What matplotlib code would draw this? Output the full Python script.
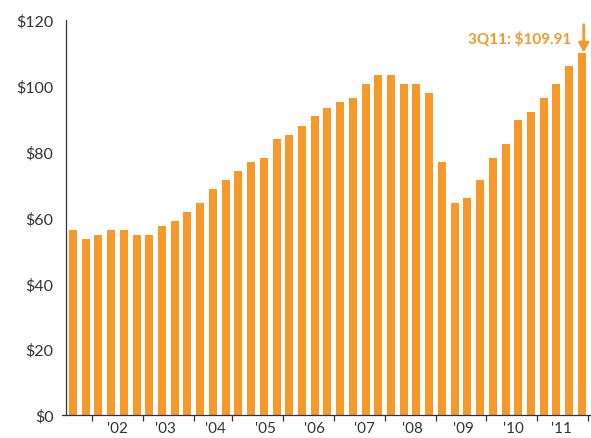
import numpy as np
import matplotlib.pyplot as plt

# quarterly values, 3Q01 .. 3Q11
quarters = ['3Q01', '4Q01'] + ['%dQ%02d' % (q, y) for y in range(2, 11) for q in range(1, 5)] + ['1Q11', '2Q11', '3Q11']
values = [56.2, 53.4, 54.7, 56.2, 56.2, 54.7, 54.7, 57.4, 58.9, 61.7,
          64.4, 68.7, 71.5, 74.2, 76.9, 78.2, 83.7, 85.2, 87.9, 90.7,
          93.4, 95.0, 96.2, 100.5, 103.2, 103.2, 100.5, 100.5, 97.7, 76.9,
          64.4, 66.0, 71.5, 78.2, 82.4, 89.5, 92.2, 96.2, 100.5, 106.0,
          109.91]
year_labels = ["'02", "'03", "'04", "'05", "'06", "'07", "'08", "'09", "'10", "'11"]
yticks = [0, 20, 40, 60, 80, 100, 120]

orange = '#F7982B'
dark = '#333333'
plt.rcParams['font.family'] = ['Lato', 'DejaVu Sans']

fig = plt.figure(figsize=(5.91, 4.39), dpi=100)
ax = fig.add_axes([62 / 591, 23 / 439, 529 / 591, 395 / 439])

x = np.arange(len(values))
ax.bar(x, values, width=0.63, color=orange, zorder=2)

ax.set_xlim(-0.865, 40.72)
ax.set_ylim(0, 120)

for s in ['top', 'right']:
    ax.spines[s].set_visible(False)
ax.spines['left'].set_position(('data', -0.55))
for s in ['left', 'bottom']:
    ax.spines[s].set_color(dark)
    ax.spines[s].set_linewidth(0.9)

ax.set_yticks(yticks)
ax.set_yticklabels(['$%d' % v for v in yticks])
ax.tick_params(axis='y', length=0, pad=9, labelsize=11.5, labelcolor=dark)

# year boundary ticks (as drawn in the original), labels in between
ax.set_xticks([1.5, 5.5, 9.5, 12.5, 16.5, 20.5, 24.5, 28.5, 32.5, 36.5, 40.5])
ax.set_xticklabels([])
ax.tick_params(axis='x', which='major', length=4, width=0.9, color=dark, direction='out')
ax.set_xticks([3.46, 7.3, 11.2, 15.1, 19.0, 22.9, 26.7, 30.7, 34.6, 38.4], minor=True)
ax.set_xticklabels(year_labels, minor=True)
ax.tick_params(axis='x', which='minor', length=0, pad=4, labelsize=11, labelcolor=dark)

last = len(values) - 1
ax.annotate('', xy=(last + 0.15, values[-1] + 0.2), xytext=(last + 0.15, 118.6),
            arrowprops=dict(arrowstyle='-|>,head_length=0.55,head_width=0.3',
                            color=orange, lw=2, shrinkA=0, shrinkB=0),
            annotation_clip=False)
ax.text(last - 0.85, 114.3, '%s: $%.2f' % (quarters[-1], values[-1]),
        ha='right', va='center', color=orange, fontsize=11, fontweight='bold')

fig.savefig('out.png', dpi=100)
